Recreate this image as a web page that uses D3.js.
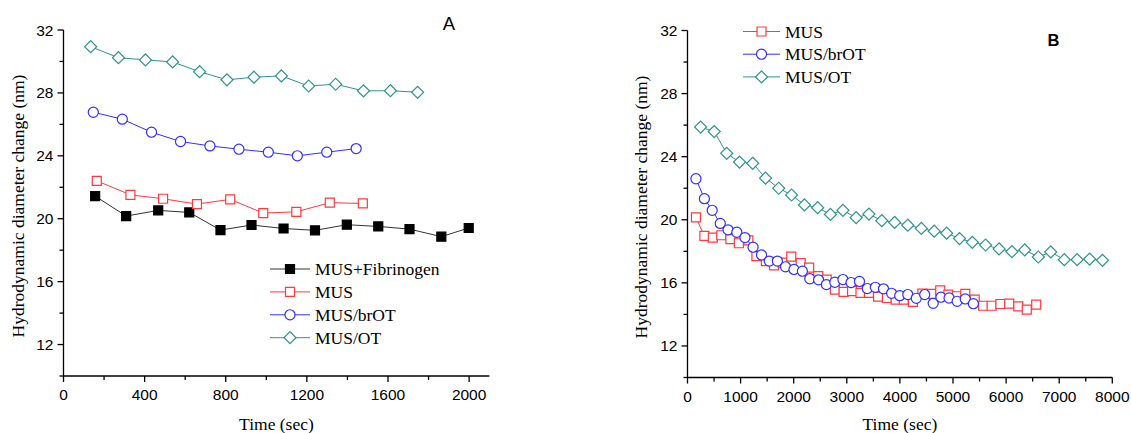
<!DOCTYPE html>
<html>
<head>
<meta charset="utf-8">
<script src="https://cdn.jsdelivr.net/npm/d3@7/dist/d3.min.js"></script>
<style>
  html, body { margin: 0; padding: 0; background: #fff; }
  svg { display: block; }
</style>
</head>
<body>
<svg id="chart" width="1131" height="433"></svg>
<script>
// Panel A: time (s) and hydrodynamic diameter change (nm)
const aFibTime = [156, 309, 467, 620, 774, 927, 1085, 1240, 1397, 1552, 1706, 1863, 1998];
const aFibSize = [21.44, 20.17, 20.53, 20.40, 19.28, 19.60, 19.38, 19.26, 19.62, 19.51, 19.34, 18.86, 19.41];
const aMusTime = [164, 330, 491, 658, 822, 985, 1148, 1313, 1476];
const aMusSize = [22.41, 21.52, 21.27, 20.93, 21.23, 20.36, 20.44, 21.02, 20.97];
const aBrotTime = [147, 290, 434, 577, 722, 865, 1010, 1153, 1298, 1443];
const aBrotSize = [26.77, 26.33, 25.50, 24.91, 24.63, 24.42, 24.23, 24.00, 24.23, 24.46];
const aOtTime = [134, 271, 404, 538, 671, 806, 939, 1074, 1209, 1342, 1479, 1612, 1746];
const aOtSize = [30.94, 30.24, 30.10, 29.97, 29.35, 28.83, 29.00, 29.08, 28.44, 28.55, 28.13, 28.14, 28.04];

// Panel B
const bMusTime = [159, 318, 477, 636, 808, 967, 1146, 1298, 1476, 1629, 1795, 1954, 2132, 2291, 2463, 2622, 2775, 2940, 3099, 3258,
  3417, 3589, 3755, 3920, 4073, 4245, 4423, 4595, 4760, 4913, 5072, 5231, 5409, 5568, 5727, 5893, 6058, 6230, 6389, 6567];
const bMusSize = [20.15, 18.98, 18.87, 19.02, 18.77, 18.51, 18.70, 17.70, 17.38, 17.11, 17.28, 17.66, 17.26, 16.96, 16.43, 16.21, 15.57, 15.43, 15.47, 15.36,
  15.36, 15.13, 15.04, 14.94, 14.94, 14.79, 15.32, 15.30, 15.53, 15.26, 15.15, 15.30, 14.94, 14.55, 14.55, 14.66, 14.68, 14.51, 14.30, 14.62];
const bBrotTime = [159, 318, 465, 617, 764, 929, 1082, 1235, 1394, 1540, 1693, 1846, 2005, 2164, 2304, 2469, 2616, 2775, 2927, 3080,
  3239, 3386, 3538, 3691, 3844, 3997, 4149, 4308, 4467, 4627, 4773, 4926, 5078, 5231, 5384];
const bBrotSize = [22.60, 21.34, 20.60, 19.77, 19.36, 19.21, 18.87, 18.26, 17.77, 17.38, 17.38, 17.02, 16.85, 16.74, 16.26, 16.19, 15.89, 16.04, 16.21, 16.02,
  16.09, 15.64, 15.72, 15.62, 15.34, 15.19, 15.26, 15.02, 15.26, 14.70, 15.09, 15.04, 14.83, 14.98, 14.68];
const bOtTime = [248, 503, 738, 980, 1228, 1470, 1718, 1960, 2202, 2450, 2692, 2927, 3176, 3417, 3659, 3901, 4149, 4404, 4646, 4881,
  5123, 5365, 5613, 5868, 6109, 6351, 6606, 6841, 7096, 7338, 7573, 7815];
const bOtSize = [25.88, 25.59, 24.21, 23.66, 23.58, 22.64, 22.00, 21.57, 20.94, 20.77, 20.34, 20.60, 20.13, 20.36, 19.94, 19.83, 19.66, 19.45, 19.28, 19.15,
  18.81, 18.57, 18.40, 18.15, 17.98, 18.09, 17.64, 17.96, 17.47, 17.47, 17.51, 17.43];

const yTicks = [12, 16, 20, 24, 28, 32];
const yMinor = [10, 14, 18, 22, 26, 30];
const aXTicks = [0, 400, 800, 1200, 1600, 2000];
const aXMinor = [200, 600, 1000, 1400, 1800];
const bXTicks = [0, 1000, 2000, 3000, 4000, 5000, 6000, 7000, 8000];
const bXMinor = [500, 1500, 2500, 3500, 4500, 5500, 6500, 7500];

const yTitle = "Hydrodynamic diameter change (nm)";
const xTitle = "Time (sec)";

const RED = "#ff3a3a", BLUE = "#3030ff", TEAL = "#2e9490", BLACK = "#000";
const SANS = "'Liberation Sans', Arial, sans-serif";
const SERIF = "'Liberation Serif', 'Times New Roman', serif";

const zip = (ts, vs) => ts.map((t, i) => ({ t, v: vs[i] }));

const svg = d3.select("#chart");

function marker(g, kind, color, x, y) {
  let path;
  if (kind === "circle") path = d3.symbol(d3.symbolCircle, 80)();
  else if (kind === "diamond") path = d3.symbol(d3.symbolSquare, 72)();
  else path = d3.symbol(d3.symbolSquare, 81)();
  g.append("path")
    .attr("d", path)
    .attr("transform", `translate(${x},${y})` + (kind === "diamond" ? " rotate(45)" : ""))
    .attr("fill", kind === "filled" ? BLACK : "#fff")
    .attr("stroke", color)
    .attr("stroke-width", 1.2);
}

function panel({ x, y, xTicks, xMinor, xMax, yLabelX, series, legend, tag }) {
  const g = svg.append("g");

  // axes lines + ticks
  const ax = g.append("g").attr("stroke", "#000").attr("stroke-width", 1.3).attr("fill", "none");
  ax.append("line").attr("x1", x(0)).attr("x2", x(xMax)).attr("y1", y(10)).attr("y2", y(10));
  ax.append("line").attr("x1", x(0)).attr("x2", x(0)).attr("y1", y(10)).attr("y2", y(32));
  xTicks.forEach((t) => ax.append("line").attr("x1", x(t)).attr("x2", x(t)).attr("y1", y(10)).attr("y2", y(10) + 6));
  xMinor.forEach((t) => ax.append("line").attr("x1", x(t)).attr("x2", x(t)).attr("y1", y(10)).attr("y2", y(10) + 4));
  yTicks.forEach((v) => ax.append("line").attr("x1", x(0) - 6).attr("x2", x(0)).attr("y1", y(v)).attr("y2", y(v)));
  yMinor.forEach((v) => ax.append("line").attr("x1", x(0) - 4).attr("x2", x(0)).attr("y1", y(v)).attr("y2", y(v)));

  g.append("g").selectAll("text").data(xTicks).join("text")
    .attr("x", (d) => x(d)).attr("y", y(10) + 24)
    .attr("text-anchor", "middle")
    .attr("font-family", SANS).attr("font-size", 15.5)
    .text((d) => d);
  g.append("g").selectAll("text").data(yTicks).join("text")
    .attr("x", x(0) - 10).attr("y", (d) => y(d) + 5.5)
    .attr("text-anchor", "end")
    .attr("font-family", SANS).attr("font-size", 15.5)
    .text((d) => d);

  g.append("text")
    .attr("x", (x(0) + x(xMax)) / 2).attr("y", 430)
    .attr("text-anchor", "middle")
    .attr("font-family", SERIF).attr("font-size", 17.5)
    .text(xTitle);
  g.append("text")
    .attr("transform", `translate(${yLabelX},${(y(10) + y(32)) / 2 + 3}) rotate(-90)`)
    .attr("text-anchor", "middle")
    .attr("font-family", SERIF).attr("font-size", 17.5)
    .text(yTitle);

  const line = d3.line().x((d) => x(d.t)).y((d) => y(d.v));
  series.forEach((s) => {
    const sg = g.append("g");
    sg.append("path").attr("d", line(s.data)).attr("fill", "none")
      .attr("stroke", s.kind === "filled" ? "#333" : s.color).attr("stroke-width", 1);
    s.data.forEach((d) => marker(sg, s.kind, s.color, x(d.t), y(d.v)));
  });

  // legend
  const lg = g.append("g");
  legend.rows.forEach((s, i) => {
    const ly = legend.y + i * legend.dy;
    lg.append("line").attr("x1", legend.x).attr("x2", legend.x + legend.len)
      .attr("y1", ly).attr("y2", ly)
      .attr("stroke", s.kind === "filled" ? "#333" : s.color).attr("stroke-width", 1);
    marker(lg, s.kind, s.color, legend.x + legend.len / 2, ly);
    lg.append("text").attr("x", legend.x + legend.len + 5).attr("y", ly + 6)
      .attr("font-family", SERIF).attr("font-size", 17.5).text(s.name);
  });

  g.append("text").attr("x", tag.x).attr("y", tag.y)
    .attr("text-anchor", "middle")
    .attr("font-family", SANS).attr("font-size", tag.size).attr("font-weight", tag.weight)
    .text(tag.text);
}

const seriesA = [
  { name: "MUS+Fibrinogen", kind: "filled", color: BLACK, data: zip(aFibTime, aFibSize) },
  { name: "MUS", kind: "square", color: RED, data: zip(aMusTime, aMusSize) },
  { name: "MUS/brOT", kind: "circle", color: BLUE, data: zip(aBrotTime, aBrotSize) },
  { name: "MUS/OT", kind: "diamond", color: TEAL, data: zip(aOtTime, aOtSize) },
];
const seriesB = [
  { name: "MUS", kind: "square", color: RED, data: zip(bMusTime, bMusSize) },
  { name: "MUS/brOT", kind: "circle", color: BLUE, data: zip(bBrotTime, bBrotSize) },
  { name: "MUS/OT", kind: "diamond", color: TEAL, data: zip(bOtTime, bOtSize) },
];

panel({
  x: d3.scaleLinear().domain([0, 2100]).range([63.5, 489.4]),
  y: d3.scaleLinear().domain([10, 32]).range([376, 30]),
  xTicks: aXTicks, xMinor: aXMinor, xMax: 2100, yLabelX: 24,
  series: seriesA,
  legend: { x: 270, y: 269, dy: 22.9, len: 40, rows: seriesA },
  tag: { text: "A", x: 449, y: 30, size: 18.5, weight: "normal" },
});

panel({
  x: d3.scaleLinear().domain([0, 8000]).range([687.5, 1112.3]),
  y: d3.scaleLinear().domain([10, 32]).range([377.5, 30.5]),
  xTicks: bXTicks, xMinor: bXMinor, xMax: 8000, yLabelX: 647,
  series: seriesB,
  legend: { x: 743, y: 31.5, dy: 22.7, len: 37, rows: seriesB },
  tag: { text: "B", x: 1053.5, y: 46, size: 16.5, weight: "bold" },
});
</script>
</body>
</html>
